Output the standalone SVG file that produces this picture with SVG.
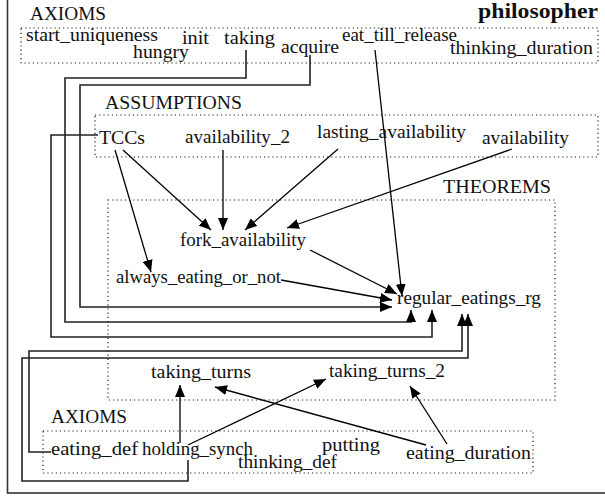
<svg xmlns="http://www.w3.org/2000/svg" width="605" height="497" viewBox="0 0 605 497">
<defs>
<marker id="ah" markerUnits="userSpaceOnUse" markerWidth="12" markerHeight="10" viewBox="0 0 12 10" refX="12" refY="5" orient="auto">
<path d="M0,0 L12,5 L0,10 z" fill="#000"/>
</marker>
</defs>
<style>
text{font-family:"Liberation Serif","Times New Roman",serif;font-size:19px;fill:#111}
.title{font-weight:bold;font-size:20px}
.cl{fill:none;stroke:#222;stroke-width:1.2;stroke-dasharray:1.2 3}
.e{fill:none;stroke:#000;stroke-width:1.3;marker-end:url(#ah)}
.p{fill:none;stroke:#222;stroke-width:1.6;marker-end:url(#ah)}
</style>
<rect x="7.5" y="-5" width="610" height="498" fill="#fff" stroke="#333" stroke-width="1.6"/>
<text class="title" x="478" y="18" textLength="120" lengthAdjust="spacingAndGlyphs">philosopher</text>

<g id="cluster_axioms_top">
<rect class="cl" x="21" y="28" width="577" height="35"/>
<text x="30" y="20" textLength="76" lengthAdjust="spacingAndGlyphs">AXIOMS</text>
</g>
<g id="cluster_assumptions">
<rect class="cl" x="95" y="115" width="503" height="42"/>
<text x="105" y="109" textLength="137" lengthAdjust="spacingAndGlyphs">ASSUMPTIONS</text>
</g>
<g id="cluster_theorems">
<rect class="cl" x="108" y="200" width="447" height="200"/>
<text x="443" y="193" textLength="108" lengthAdjust="spacingAndGlyphs">THEOREMS</text>
</g>
<g id="cluster_axioms_bottom">
<rect class="cl" x="43" y="431" width="490" height="42"/>
<text x="51" y="423" textLength="76" lengthAdjust="spacingAndGlyphs">AXIOMS</text>
</g>

<g id="start_uniqueness"><text x="26" y="41" textLength="132" lengthAdjust="spacingAndGlyphs">start_uniqueness</text></g>
<g id="init"><text x="182" y="44" textLength="27" lengthAdjust="spacingAndGlyphs">init</text></g>
<g id="taking"><text x="224" y="44" textLength="51" lengthAdjust="spacingAndGlyphs">taking</text></g>
<g id="hungry"><text x="133" y="58" textLength="56" lengthAdjust="spacingAndGlyphs">hungry</text></g>
<g id="acquire"><text x="281" y="53" textLength="58" lengthAdjust="spacingAndGlyphs">acquire</text></g>
<g id="eat_till_release"><text x="342" y="41" textLength="115" lengthAdjust="spacingAndGlyphs">eat_till_release</text></g>
<g id="thinking_duration"><text x="450" y="54" textLength="143" lengthAdjust="spacingAndGlyphs">thinking_duration</text></g>

<g id="TCCs"><text x="99" y="144" textLength="46" lengthAdjust="spacingAndGlyphs">TCCs</text></g>
<g id="availability_2"><text x="185" y="143" textLength="105" lengthAdjust="spacingAndGlyphs">availability_2</text></g>
<g id="lasting_availability"><text x="317" y="138" textLength="149" lengthAdjust="spacingAndGlyphs">lasting_availability</text></g>
<g id="availability"><text x="482" y="144" textLength="87" lengthAdjust="spacingAndGlyphs">availability</text></g>

<g id="fork_availability"><text x="180" y="246" textLength="126" lengthAdjust="spacingAndGlyphs">fork_availability</text></g>
<g id="always_eating_or_not"><text x="116" y="283" textLength="165" lengthAdjust="spacingAndGlyphs">always_eating_or_not</text></g>
<g id="regular_eatings_rg"><text x="397" y="304" textLength="144" lengthAdjust="spacingAndGlyphs">regular_eatings_rg</text></g>
<g id="taking_turns"><text x="151" y="378" textLength="100" lengthAdjust="spacingAndGlyphs">taking_turns</text></g>
<g id="taking_turns_2"><text x="329" y="377" textLength="116" lengthAdjust="spacingAndGlyphs">taking_turns_2</text></g>

<g id="eating_def"><text x="51" y="455" textLength="87" lengthAdjust="spacingAndGlyphs">eating_def</text></g>
<g id="holding_synch"><text x="142" y="455" textLength="111" lengthAdjust="spacingAndGlyphs">holding_synch</text></g>
<g id="thinking_def"><text x="238" y="468" textLength="99" lengthAdjust="spacingAndGlyphs">thinking_def</text></g>
<g id="putting"><text x="322" y="451" textLength="58" lengthAdjust="spacingAndGlyphs">putting</text></g>
<g id="eating_duration"><text x="406" y="459" textLength="125" lengthAdjust="spacingAndGlyphs">eating_duration</text></g>

<g id="connectors">
<polyline class="p" points="310,55 310,85 80,85 80,307 392,307"/>
<polyline class="p" points="246,50 246,78 65,78 65,322 411,322 411,310"/>
<polyline class="p" points="98,135 51,135 51,337 432,337 432,310"/>
<polyline class="p" points="51,452 29,452 29,351 462,351 462,314"/>
<polyline class="p" points="188,460 188,481 22,481 22,358 468,358 468,314"/>
<line class="e" x1="375" y1="50" x2="402" y2="296"/>
<line class="e" x1="123" y1="150" x2="211" y2="230"/>
<line class="e" x1="115" y1="150" x2="151" y2="272"/>
<line class="e" x1="223" y1="150" x2="223" y2="230"/>
<line class="e" x1="338" y1="149" x2="245" y2="230"/>
<line class="e" x1="512" y1="149" x2="287" y2="228"/>
<line class="e" x1="310" y1="250" x2="397" y2="294"/>
<line class="e" x1="281" y1="280" x2="392" y2="300"/>
<line class="e" x1="180" y1="443" x2="180" y2="385"/>
<line class="e" x1="188" y1="445" x2="326" y2="379"/>
<line class="e" x1="426" y1="445" x2="215" y2="387"/>
<line class="e" x1="447" y1="444" x2="410" y2="386"/>
</g>
</svg>
